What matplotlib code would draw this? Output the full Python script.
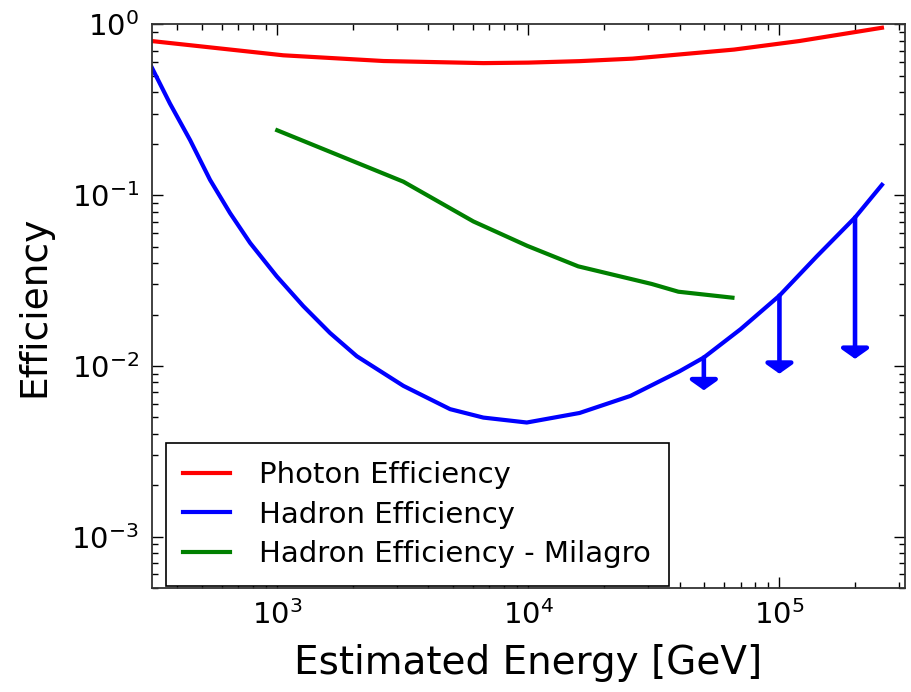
import matplotlib
matplotlib.use("Agg")
import matplotlib.pyplot as plt

# ---- data ----
photon_E = [316, 1057, 2650, 6620, 1e4, 1.6e4, 2.6e4, 6.6e4, 1.2e5, 2.56e5]
photon_eff = [0.80, 0.66, 0.611, 0.594, 0.598, 0.61, 0.631, 0.713, 0.80, 0.957]

hadron_E = [316, 374, 450, 540, 649, 780, 995, 1270, 1622, 2074, 3180, 4880,
            6620, 9860, 1.6e4, 2.55e4, 4e4, 5e4, 7e4, 1e5, 1.41e5, 2e5, 2.56e5]
hadron_eff = [0.563, 0.344, 0.210, 0.123, 0.0785, 0.0525, 0.0335, 0.0224,
              0.0156, 0.0114, 0.00764, 0.00558, 0.00498, 0.00466, 0.0053,
              0.00667, 0.0093, 0.0112, 0.0164, 0.0258, 0.0439, 0.074, 0.115]

milagro_E = [1000, 3180, 6040, 9900, 1.58e4, 3.1e4, 3.96e4, 6.5e4]
milagro_eff = [0.24, 0.12, 0.0702, 0.0505, 0.0383, 0.0302, 0.0272, 0.0251]

# upper-limit arrows: energy, start (on curve), tip
arrow_E = [5e4, 1e5, 2e5]
arrow_top = [0.0112, 0.0258, 0.074]
arrow_tip = [0.0072, 0.0090, 0.0110]

fig = plt.figure(figsize=(9.11, 6.92), dpi=100)
ax = fig.add_axes([0.1665, 0.1503, 0.8269, 0.8143])

ax.plot(photon_E, photon_eff, color="red", lw=3, label="Photon Efficiency")
ax.plot(hadron_E, hadron_eff, color="blue", lw=3, label="Hadron Efficiency")
ax.plot(milagro_E, milagro_eff, color="green", lw=3,
        label="Hadron Efficiency - Milagro")

for e, top, tip in zip(arrow_E, arrow_top, arrow_tip):
    ax.annotate("", xy=(e, tip), xytext=(e, top),
                arrowprops=dict(arrowstyle="-|>,head_width=0.85,head_length=0.6",
                                color="blue", lw=3.3, shrinkA=0, shrinkB=0,
                                mutation_scale=10))

ax.set_xscale("log")
ax.set_yscale("log")
ax.set_xlim(10 ** 2.5, 10 ** 5.5)
ax.set_ylim(5e-4, 1)

ax.set_xlabel("Estimated Energy [GeV]", fontsize=28, labelpad=10)
ax.set_ylabel("Efficiency", fontsize=27, labelpad=14)

ax.tick_params(which="both", direction="in", top=True, right=True,
               labelsize=21, colors="black")
ax.tick_params(which="major", length=8, width=1, pad=9)
ax.tick_params(which="minor", length=4, width=1)
for s in ax.spines.values():
    s.set_linewidth(1.3)
    s.set_color("#333333")

leg = ax.legend(loc="lower left", bbox_to_anchor=(0.019, 0.004),
                borderaxespad=0, fontsize=21, fancybox=False,
                edgecolor="black", framealpha=1, handlelength=1.6,
                handletextpad=1.0, borderpad=0.6, labelspacing=0.4)
leg.get_frame().set_linewidth(1.2)

fig.savefig("out.png", dpi=100)
